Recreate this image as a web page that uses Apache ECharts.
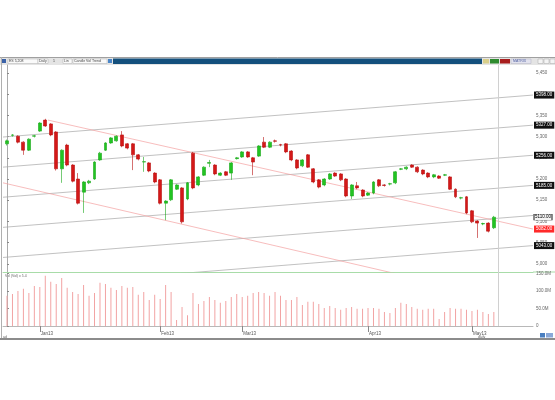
<!DOCTYPE html>
<html>
<head>
<meta charset="utf-8">
<script src="https://cdn.jsdelivr.net/npm/echarts@6/dist/echarts.min.js"></script>
<style>
html, body { margin: 0; padding: 0; background: #fff; }
#chart { width: 555px; height: 400px; }
</style>
</head>
<body>
<div id="chart"></div>
<script>
// daily candles: [open, close, low, high]
const candles = [
  [5283, 5290, 5279, 5293], [5303, 5304, 5300, 5306], [5301, 5287, 5284, 5303], [5287, 5268, 5257, 5289],
  [5268, 5294, 5266, 5296], [5301, 5302, 5298, 5304], [5313, 5332, 5311, 5334], [5339, 5325, 5323, 5342],
  [5330, 5304, 5301, 5332], [5311, 5224, 5220, 5313], [5224, 5268, 5191, 5270], [5280, 5233, 5230, 5283],
  [5233, 5195, 5192, 5235], [5200, 5143, 5140, 5214], [5169, 5193, 5120, 5195], [5191, 5195, 5188, 5198],
  [5200, 5240, 5198, 5242], [5245, 5261, 5243, 5264], [5268, 5285, 5266, 5287], [5285, 5297, 5283, 5299],
  [5290, 5301, 5288, 5303], [5304, 5278, 5275, 5313], [5283, 5273, 5270, 5285], [5283, 5257, 5221, 5285],
  [5257, 5247, 5244, 5259], [5240, 5241, 5217, 5252], [5238, 5219, 5216, 5240], [5214, 5193, 5190, 5216],
  [5198, 5143, 5140, 5200], [5143, 5148, 5103, 5150], [5151, 5198, 5148, 5200], [5176, 5186, 5174, 5188],
  [5179, 5099, 5095, 5181], [5153, 5191, 5150, 5193], [5261, 5179, 5176, 5264], [5186, 5205, 5183, 5207],
  [5209, 5228, 5207, 5230], [5237, 5239, 5228, 5245], [5233, 5212, 5209, 5235], [5209, 5214, 5207, 5216],
  [5217, 5209, 5207, 5219], [5214, 5238, 5198, 5240], [5248, 5250, 5246, 5252], [5252, 5264, 5250, 5266],
  [5264, 5252, 5250, 5266], [5250, 5240, 5209, 5252], [5254, 5278, 5252, 5280], [5287, 5275, 5273, 5299],
  [5275, 5287, 5273, 5289], [5290, 5289, 5286, 5293], [5281, 5280, 5277, 5283], [5283, 5264, 5261, 5285],
  [5266, 5245, 5242, 5268], [5245, 5226, 5223, 5247], [5231, 5245, 5228, 5247], [5257, 5228, 5226, 5259],
  [5224, 5193, 5190, 5226], [5198, 5181, 5178, 5200], [5186, 5200, 5183, 5202], [5200, 5212, 5198, 5214],
  [5214, 5207, 5205, 5216], [5212, 5198, 5195, 5214], [5200, 5160, 5157, 5202], [5160, 5186, 5153, 5188],
  [5184, 5179, 5176, 5193], [5174, 5160, 5157, 5176], [5162, 5167, 5160, 5169], [5167, 5193, 5164, 5195],
  [5198, 5184, 5181, 5200], [5186, 5185, 5182, 5188], [5188, 5189, 5185, 5191], [5191, 5217, 5188, 5219],
  [5223, 5224, 5221, 5226], [5224, 5228, 5221, 5230], [5233, 5228, 5226, 5235], [5228, 5217, 5214, 5230],
  [5221, 5212, 5209, 5223], [5214, 5205, 5202, 5216], [5205, 5210, 5202, 5212], [5207, 5202, 5200, 5209],
  [5209, 5210, 5207, 5212], [5205, 5176, 5174, 5207], [5176, 5158, 5155, 5178], [5155, 5156, 5152, 5158],
  [5158, 5120, 5117, 5160], [5125, 5099, 5096, 5127], [5101, 5096, 5061, 5103], [5094, 5095, 5091, 5097],
  [5096, 5077, 5074, 5098], [5085, 5110, 5082, 5113]
]

// volume, millions
const volumes = [
  86, 91, 100, 106, 94, 114, 111, 143, 126, 120, 137, 109, 97, 91, 117, 86, 94, 123, 120, 109,
  103, 114, 109, 111, 89, 97, 74, 89, 77, 117, 97, 17, 54, 31, 94, 63, 71, 83, 74, 66,
  71, 83, 91, 83, 86, 94, 97, 94, 86, 97, 86, 74, 74, 83, 60, 69, 69, 63, 51, 57,
  51, 46, 51, 54, 49, 49, 51, 51, 49, 40, 37, 51, 66, 63, 54, 49, 46, 49, 49, 20,
  40, 51, 49, 49, 46, 43, 46, 40, 34, 40
]

const monthTicks = [6, 28, 43, 66, 85]
const monthNames = ['Jan13', 'Feb13', 'Mar13', 'Apr13', 'May13']
const priceTicks = [5450, 5400, 5350, 5300, 5250, 5200, 5150, 5100, 5050, 5000]
const volTicks = [0, 50, 100, 150]

// drawn channel (grey), price at left edge and right edge
const channelLeft = [5299, 5228, 5157, 5086, 5015, 4944]
const channelRight = [5398, 5327, 5256, 5185, 5114, 5043]
// drawn down trend lines (pink): [index, price] pairs
const trendUpper = [[7.5, 5339], [96.16, 5082]]
const trendLower = [[-0.73, 5191], [96.16, 4902]]

const xMin = -0.73
const xMax = 96.16
const cursorIdx = 89.8
const lastClose = candles[candles.length - 1][1]
const font = 'Liberation Sans, DejaVu Sans, sans-serif'

let myChart = echarts.init(document.getElementById('chart'))

let seriesData = [
  {
    name: 'price',
    type: 'candlestick',
    xAxisIndex: 0,
    yAxisIndex: 0,
    data: candles.map((c, i) => [i, c[0], c[1], c[2], c[3]]),
    encode: { x: 0, y: [1, 2, 3, 4] },
    barWidth: 3.4,
    itemStyle: {
      color: '#22c422',
      color0: '#d41818',
      borderColor: '#1aa81a',
      borderColor0: '#b81010',
      borderWidth: 0.6
    },
    markLine: {
      silent: true,
      symbol: 'none',
      label: { show: false },
      lineStyle: { color: '#d0d0d0', type: 'solid', width: 1 },
      data: [{ xAxis: cursorIdx }]
    },
    markPoint: {
      silent: true,
      symbol: 'rect',
      symbolSize: [18, 6],
      symbolOffset: [10, 0],
      itemStyle: { color: '#f4f4f4', borderColor: '#222', borderWidth: 0.6 },
      label: { show: true, formatter: () => lastClose.toFixed(2), fontSize: 4.5, color: '#000', fontFamily: font },
      data: [{ coord: [xMax, lastClose] }]
    },
    z: 5
  },
  {
    name: 'vol',
    type: 'bar',
    xAxisIndex: 1,
    yAxisIndex: 1,
    data: volumes.map((v, i) => [i, v]),
    barWidth: 1,
    itemStyle: { color: '#f2a3a3' },
    markLine: {
      silent: true,
      symbol: 'none',
      label: { show: false },
      lineStyle: { color: '#d0d0d0', type: 'solid', width: 1 },
      data: [{ xAxis: cursorIdx }]
    }
  }
]

channelLeft.forEach((v, k) => {
  seriesData.push({
    type: 'line',
    xAxisIndex: 0,
    yAxisIndex: 0,
    silent: true,
    symbol: 'none',
    data: [[xMin, v], [xMax, channelRight[k]]],
    lineStyle: { color: '#a6a6a6', width: 0.7 },
    endLabel: {
      show: k !== 4,
      formatter: p => p.value[1].toFixed(2),
      backgroundColor: '#111',
      color: '#fff',
      fontSize: 4.5,
      fontFamily: font,
      padding: [1, 2],
      distance: 1
    },
    z: 2
  })
})

;[trendUpper, trendLower].forEach((pts, k) => {
  seriesData.push({
    type: 'line',
    xAxisIndex: 0,
    yAxisIndex: 0,
    silent: true,
    symbol: 'none',
    data: pts,
    lineStyle: { color: '#f4a0a0', width: 0.7 },
    endLabel: {
      show: k === 0,
      formatter: p => p.value[1].toFixed(2),
      backgroundColor: '#ff2a2a',
      color: '#fff',
      fontSize: 4.5,
      fontFamily: font,
      padding: [1, 2],
      distance: 1
    },
    z: 2
  })
})

let option = {
  animation: false,
  backgroundColor: '#ffffff',
  textStyle: { fontFamily: font },
  grid: [
    { left: 3, right: 22, top: 65, height: 207 },
    { left: 3, right: 22, top: 272, height: 54 }
  ],
  xAxis: [
    {
      type: 'value', gridIndex: 0, min: xMin, max: xMax,
      axisLine: { show: true, lineStyle: { color: '#a8dca8' } },
      axisTick: { show: false },
      axisLabel: { show: false },
      splitLine: { show: false }
    },
    {
      type: 'value', gridIndex: 1, min: xMin, max: xMax,
      axisLine: { show: true, lineStyle: { color: '#b8b8b8' } },
      axisTick: { show: true, customValues: monthTicks, length: 6, lineStyle: { color: '#888' } },
      axisLabel: {
        show: true,
        customValues: monthTicks,
        formatter: v => monthNames[monthTicks.indexOf(v)],
        align: 'left',
        margin: 5,
        padding: [0, 0, 0, 1],
        fontSize: 4.5,
        color: '#555'
      },
      splitLine: { show: false }
    }
  ],
  yAxis: [
    {
      type: 'value', gridIndex: 0, position: 'right', min: 4980.7, max: 5468.9,
      axisLine: { show: true, lineStyle: { color: '#aaaaaa' } },
      axisTick: { show: true, customValues: priceTicks, length: 2, lineStyle: { color: '#888' } },
      axisLabel: { customValues: priceTicks, fontSize: 4.5, color: '#666', margin: 3 },
      splitLine: { show: false }
    },
    {
      type: 'value', gridIndex: 1, position: 'right', min: 0, max: 154,
      axisLine: { show: true, lineStyle: { color: '#aaaaaa' } },
      axisTick: { show: true, customValues: volTicks, length: 2, lineStyle: { color: '#888' } },
      axisLabel: {
        customValues: volTicks,
        formatter: v => v === 0 ? '0' : v.toFixed(1) + 'M',
        fontSize: 4.5, color: '#666', margin: 3
      },
      splitLine: { show: false }
    }
  ],
  graphic: [
    // window frame and toolbar
    { type: 'rect', shape: { x: 0, y: 57, width: 555, height: 8 }, style: { fill: '#e4e4e4' }, silent: true },
    { type: 'line', shape: { x1: 0, y1: 57.5, x2: 555, y2: 57.5 }, style: { stroke: '#a0a0a0', lineWidth: 1 }, silent: true },
    { type: 'rect', shape: { x: 113, y: 58.5, width: 369, height: 5.5 }, style: { fill: '#14507d' }, silent: true },
    { type: 'rect', shape: { x: 2, y: 59, width: 4, height: 4 }, style: { fill: '#3b62a8' }, silent: true },
    { type: 'rect', shape: { x: 8, y: 59, width: 30, height: 4.5 }, style: { fill: '#fafafa', stroke: '#b0b0b0', lineWidth: 0.5 }, silent: true },
    { type: 'text', x: 9, y: 59.4, style: { text: 'ES 5,208', fontSize: 3.5, fill: '#444', fontFamily: font }, silent: true },
    { type: 'rect', shape: { x: 38, y: 59, width: 10, height: 4.5 }, style: { fill: '#fafafa', stroke: '#b0b0b0', lineWidth: 0.5 }, silent: true },
    { type: 'text', x: 39, y: 59.4, style: { text: 'Daily', fontSize: 3.5, fill: '#444', fontFamily: font }, silent: true },
    { type: 'text', x: 53, y: 59.4, style: { text: '1', fontSize: 3.5, fill: '#444', fontFamily: font }, silent: true },
    { type: 'rect', shape: { x: 63, y: 59, width: 9, height: 4.5 }, style: { fill: '#fafafa', stroke: '#b0b0b0', lineWidth: 0.5 }, silent: true },
    { type: 'text', x: 64, y: 59.4, style: { text: 'Lin', fontSize: 3.5, fill: '#444', fontFamily: font }, silent: true },
    { type: 'rect', shape: { x: 73, y: 59, width: 34, height: 4.5 }, style: { fill: '#fafafa', stroke: '#b0b0b0', lineWidth: 0.5 }, silent: true },
    { type: 'text', x: 74, y: 59.4, style: { text: 'Candle Vol Trend', fontSize: 3.5, fill: '#444', fontFamily: font }, silent: true },
    { type: 'rect', shape: { x: 108, y: 59, width: 4, height: 4 }, style: { fill: '#4a86c8' }, silent: true },
    { type: 'rect', shape: { x: 483, y: 59, width: 6, height: 4.5 }, style: { fill: '#d9cf8a' }, silent: true },
    { type: 'rect', shape: { x: 490, y: 59, width: 9, height: 4.5 }, style: { fill: '#2e8b2e' }, silent: true },
    { type: 'rect', shape: { x: 500, y: 59, width: 10, height: 4.5 }, style: { fill: '#a81e1e' }, silent: true },
    { type: 'rect', shape: { x: 511, y: 59, width: 20, height: 4.5 }, style: { fill: '#e2e2ee', stroke: '#b0b0c0', lineWidth: 0.5 }, silent: true },
    { type: 'text', x: 513, y: 59.4, style: { text: 'MATRIX', fontSize: 3.5, fill: '#5060a0', fontFamily: font }, silent: true },
    { type: 'rect', shape: { x: 538, y: 59, width: 5, height: 4.5 }, style: { fill: '#f4f4f4', stroke: '#aaa', lineWidth: 0.5 }, silent: true },
    { type: 'rect', shape: { x: 544, y: 59, width: 5, height: 4.5 }, style: { fill: '#f4f4f4', stroke: '#aaa', lineWidth: 0.5 }, silent: true },
    { type: 'rect', shape: { x: 550, y: 59, width: 5, height: 4.5 }, style: { fill: '#f4f4f4', stroke: '#aaa', lineWidth: 0.5 }, silent: true },
    { type: 'line', shape: { x1: 1.5, y1: 57, x2: 1.5, y2: 339 }, style: { stroke: '#b0b0b0', lineWidth: 1 }, silent: true },
    { type: 'line', shape: { x1: 533, y1: 272, x2: 555, y2: 272 }, style: { stroke: '#a8dca8', lineWidth: 1 }, silent: true },
    // volume pane title
    { type: 'text', x: 5, y: 274, style: { text: 'Vol (Vol) x 5.4', fontSize: 3.5, fill: '#666', fontFamily: font }, silent: true },
    // bottom status strip
    { type: 'text', x: 3, y: 335, style: { text: 'ad', fontSize: 3.5, fill: '#666', fontFamily: font }, silent: true },
    { type: 'text', x: 478, y: 335, style: { text: 'daily', fontSize: 3.5, fill: '#666', fontFamily: font }, silent: true },
    { type: 'rect', shape: { x: 540, y: 333, width: 5, height: 4.5 }, style: { fill: '#4a7fc0' }, silent: true },
    { type: 'rect', shape: { x: 546, y: 333, width: 7, height: 4.5 }, style: { fill: '#8aa8d8' }, silent: true },
    { type: 'rect', shape: { x: 0, y: 338, width: 555, height: 2 }, style: { fill: '#8c8c8c' }, silent: true }
  ],
  series: seriesData
}

if (option && typeof option === 'object') {
  myChart.setOption(option, true)
}
</script>
</body>
</html>
